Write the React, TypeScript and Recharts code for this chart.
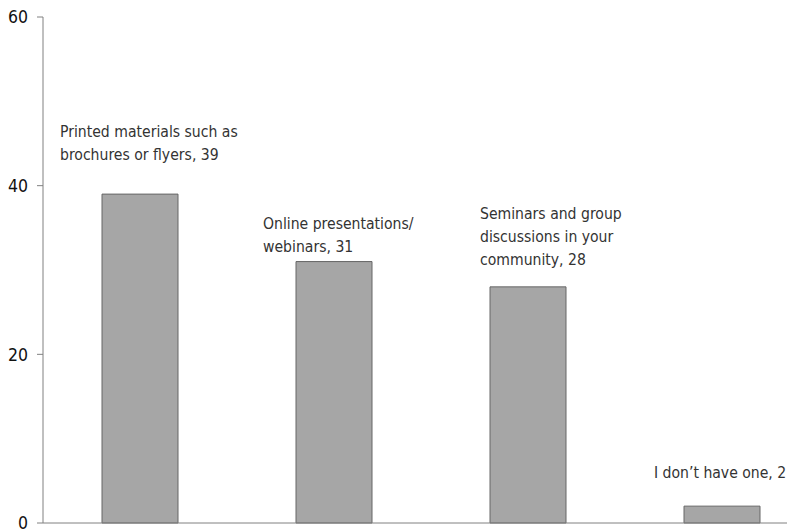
import React from "react";
import { BarChart, Bar, XAxis, YAxis, LabelList } from "recharts";

const categories = [
  "Printed materials such as brochures or flyers",
  "Online presentations/ webinars",
  "Seminars and group discussions in your community",
  "I don\u2019t have one",
];
const values = [39, 31, 28, 2];
const labelLines = [
  ["Printed materials such as", "brochures or flyers, 39"],
  ["Online presentations/", "webinars, 31"],
  ["Seminars and group", "discussions in your", "community, 28"],
  ["I don\u2019t have one, 2"],
];
const yTicks = [0, 20, 40, 60];

// label placement (layout only)
const labelDx = [-42, -33, -10, -30];
const labelGap = [34, 10, 22, 28];
const LINE_H = 23;

const data = categories.map((c, i) => ({ cat: c, value: values[i], idx: i }));

const FONT = "'DejaVu Sans Condensed', 'DejaVu Sans', sans-serif";

const renderLabel = (props: any) => {
  const { x, y, index } = props;
  const lines = labelLines[index];
  const left = Number(x) + labelDx[index];
  const lastBase = Number(y) - labelGap[index];
  const firstBase = lastBase - (lines.length - 1) * LINE_H;
  return (
    <text fontFamily={FONT} fontSize={15.6} fill="#333" textAnchor="start">
      {lines.map((l, k) => (
        <tspan key={k} x={left} y={firstBase + k * LINE_H}>
          {l}
        </tspan>
      ))}
    </text>
  );
};

export default function App() {
  return (
    <div
      style={{
        position: "fixed",
        left: 0,
        top: 0,
        width: 787,
        height: 529,
        overflow: "hidden",
        background: "#fff",
      }}
    >
      <BarChart
        width={819}
        height={529}
        data={data}
        margin={{ top: 17, right: 0, bottom: 0, left: 0 }}
      >
        <XAxis
          dataKey="cat"
          tick={false}
          tickLine={false}
          height={6}
          axisLine={{ stroke: "#808080" }}
        />
        <YAxis
          width={43}
          domain={[0, 60]}
          ticks={yTicks}
          interval={0}
          axisLine={{ stroke: "#808080" }}
          tickLine={{ stroke: "#808080" }}
          tickSize={6}
          tickMargin={9}
          tick={{ fill: "#111", fontSize: 17.5, fontFamily: FONT }}
        />
        <Bar
          dataKey="value"
          barSize={76}
          fill="#a6a6a6"
          stroke="#666"
          strokeWidth={1}
          isAnimationActive={false}
        >
          <LabelList dataKey="value" content={renderLabel} />
        </Bar>
      </BarChart>
    </div>
  );
}
